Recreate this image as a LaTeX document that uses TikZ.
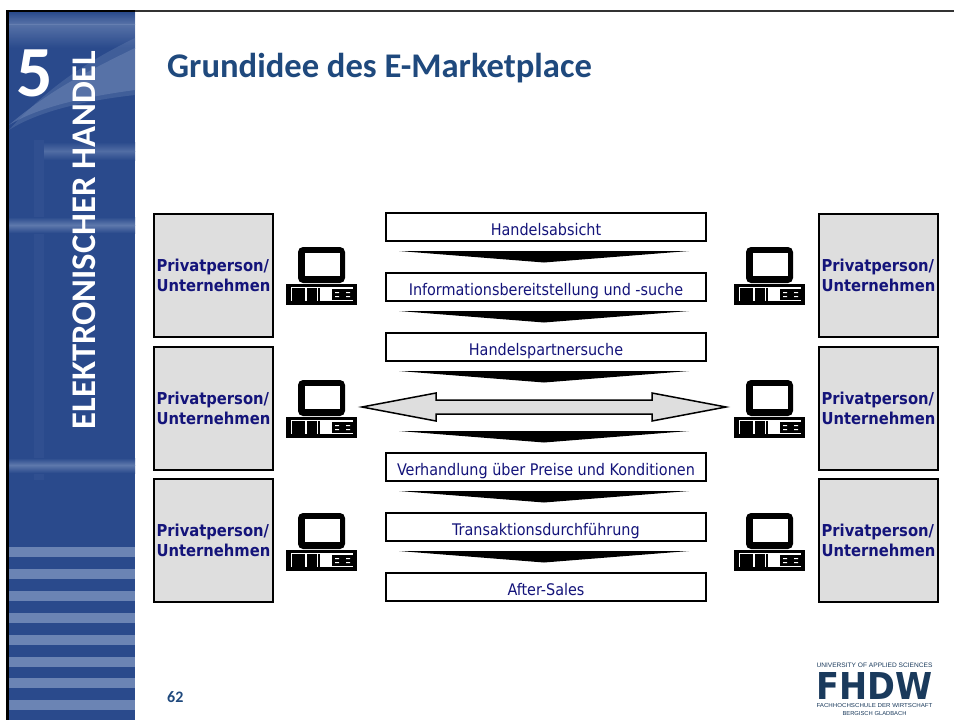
\documentclass[tikz,border=0pt]{standalone}
\usepackage{fontspec}
\usepackage{graphicx}
\setmainfont{Carlito}
\newfontfamily\boxfont{DejaVu Sans Condensed}
\newfontfamily\logofont{Liberation Sans}
\newfontfamily\logoheavy{DejaVu Sans}
\definecolor{sidebar}{HTML}{2A4A8C}
\definecolor{sidelight}{HTML}{6B84B4}
\definecolor{titleblue}{HTML}{1F497D}
\definecolor{boxtext}{HTML}{14147A}
\definecolor{boxgray}{HTML}{DEDEDE}
\definecolor{logoblue}{HTML}{1A3A5C}
\begin{document}
\begin{tikzpicture}
    [
    x=1pt,
    y=-1pt,
    partybox/.style={
      draw=black,
      fill=boxgray,
      line width=2pt,
      minimum width=119pt,
      minimum height=123pt,
      inner sep=0pt,
      outer sep=0pt,
      align=left,
      text=boxtext,
      font=\boxfont\bfseries\fontsize{16.4}{19.5}\selectfont
    },
    stepbox/.style={
      draw=black,
      fill=white,
      line width=2pt,
      minimum width=320pt,
      minimum height=28pt,
      inner sep=0pt,
      outer sep=0pt,
      text height=16pt,
      text depth=0pt,
      text=boxtext,
      font=\boxfont\fontsize{16}{18}\selectfont
    },
    computer/.pic={
      \fill[black,rounded corners=5pt] (12,0) rectangle (59,36);
      \fill[white] (19,6) rectangle (54,29);
      \fill[black] (0,37) rectangle (71,58);
      \fill[white] (5,40) rectangle (67,54);
      \fill[black] (6,41) rectangle (19,54);
      \fill[black] (21,41) rectangle (31,54);
      \fill[black] (32,41) rectangle (34,54);
      \fill[black] (46,42) rectangle (67,53);
      \fill[white] (49,45) rectangle (53,46) (60,45) rectangle (64,46);
      \fill[white] (49,49) rectangle (53,50) (60,49) rectangle (64,50);
    }]
    % page frame
    \useasboundingbox (0,0) rectangle (954,720);
    \fill[white] (0,0) rectangle (954,720);
    \fill[sidebar] (6,10) rectangle (135,720);
    % sidebar artwork
    \begin{scope}
      \clip (9,12) rectangle (135,720);
      \shade[top color=sidebar,bottom color=sidelight,opacity=.7] (9,12) rectangle (135,24);
      \shade[top color=sidelight,bottom color=sidebar,opacity=.7] (9,24) rectangle (135,48);
      \fill[sidelight,opacity=.35] (9,130) .. controls (50,85) and (90,60) .. (135,38)
        -- (135,95) .. controls (90,100) and (40,110) .. (9,130) -- cycle;
      \fill[sidelight,opacity=.55] (9,125) .. controls (50,90) and (90,70) .. (135,48)
        -- (135,90) .. controls (90,96) and (40,106) .. (9,125) -- cycle;
      \fill[sidelight,opacity=.1] (34,140) rectangle (44,480);
      \shade[top color=sidebar,bottom color=sidelight!60!sidebar] (44,142) rectangle (135,151);
      \shade[top color=sidelight!60!sidebar,bottom color=sidebar] (44,151) rectangle (135,160);
      \shade[top color=sidebar,bottom color=sidelight!80!sidebar] (9,217) rectangle (135,225);
      \shade[top color=sidelight!80!sidebar,bottom color=sidebar] (9,225) rectangle (135,233);
      \shade[top color=sidebar,bottom color=sidelight!80!sidebar] (9,458) rectangle (135,465);
      \shade[top color=sidelight!80!sidebar,bottom color=sidebar] (9,465) rectangle (135,473);
      \foreach \stripe in {547,569,591,613,635,657,678,700}
        \fill[sidelight] (9,\stripe) rectangle (135,\stripe+9.5);
    \end{scope}
    \fill[black] (6,10) rectangle (9,720);
    \fill[black] (6,10) rectangle (135,12);
    \fill[black!80] (135,10) rectangle (954,12);
    % sidebar and title texts
    \node (chapter) at (35,73) [text=white,font=\bfseries\fontsize{72}{72}\selectfont] {5};
    \node (sidetitle) at (84,240) [rotate=90,text=white,font=\bfseries\fontsize{34.6}{35}\selectfont] {ELEKTRONISCHER HANDEL};
    \node (title) at (167,68) [anchor=west,inner sep=0pt,text=titleblue,font=\bfseries\fontsize{34.6}{35}\selectfont] {Grundidee des E-Marketplace};
    \node (page) at (167,697) [anchor=west,inner sep=0pt,text=titleblue,font=\bfseries\fontsize{16}{16}\selectfont] {62};
    % parties
    \node (left1) at (213.5,275.5) [partybox] {Privatperson/\\Unternehmen};
    \node (left2) at (213.5,408.5) [partybox] {Privatperson/\\Unternehmen};
    \node (left3) at (213.5,540.5) [partybox] {Privatperson/\\Unternehmen};
    \node (right1) at (878.5,275.5) [partybox] {Privatperson/\\Unternehmen};
    \node (right2) at (878.5,408.5) [partybox] {Privatperson/\\Unternehmen};
    \node (right3) at (878.5,540.5) [partybox] {Privatperson/\\Unternehmen};
    % computers
    \foreach \row in {247,380,513} {
      \pic at (286,\row) {computer};
      \pic at (734,\row) {computer};
    }
    % phases
    \node (intent) at (546,227) [stepbox] {Handelsabsicht};
    \node (info) at (546,287) [stepbox] {Informationsbereitstellung und -suche};
    \node (search) at (546,347) [stepbox] {Handelspartnersuche};
    \node (talks) at (546,467) [stepbox] {Verhandlung über Preise und Konditionen};
    \node (deal) at (546,527) [stepbox] {Transaktionsdurchführung};
    \node (after) at (546,587) [stepbox] {After-Sales};
    % tapered bars
    \foreach \bar in {251,311,371,431,491,551}
      \fill[black] (399,\bar) -- (689,\bar) -- (544,\bar+11.5) -- cycle;
    % double arrow
    \draw[fill=boxgray,line width=1.5pt,line join=miter] (362,407) -- (436,393) -- (436,400) -- (652,400)
      -- (652,393) -- (726,407) -- (652,421) -- (652,414) -- (436,414) -- (436,421) -- cycle;
    % logo
    \node (logotop) at (874.5,665) [text=logoblue,inner sep=0pt] {\resizebox{116pt}{4.5pt}{\logofont UNIVERSITY OF APPLIED SCIENCES}};
    \node (logo) at (874.5,686) [text=logoblue,inner sep=0pt] {\resizebox{116pt}{27pt}{\logoheavy\bfseries FHDW}};
    \node (logoschool) at (874.5,706) [text=logoblue,inner sep=0pt] {\resizebox{116pt}{4pt}{\logofont FACHHOCHSCHULE DER WIRTSCHAFT}};
    \node (logotown) at (874.5,713.5) [text=logoblue,inner sep=0pt] {\resizebox{64pt}{4pt}{\logofont BERGISCH GLADBACH}};
  \end{tikzpicture}
\end{document}
